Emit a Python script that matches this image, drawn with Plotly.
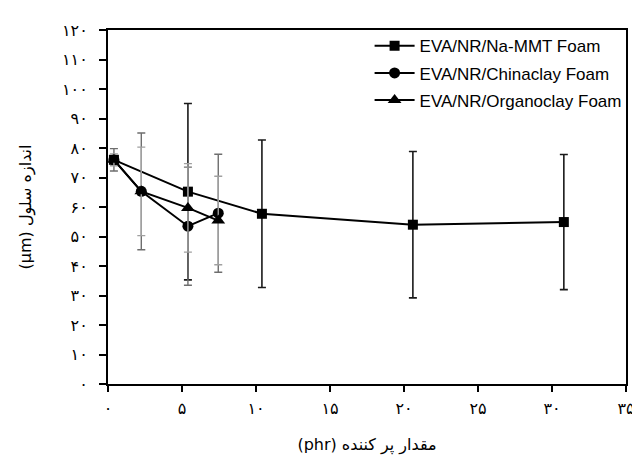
import plotly.graph_objects as go

# Filler content (phr) and mean cell size (um) with standard deviations
x_mmt = [0.4, 5.4, 10.4, 20.6, 30.8]
y_mmt = [76.0, 65.2, 57.7, 54.0, 54.9]
e_mmt = [1.0, 29.9, 25.0, 24.8, 22.9]

x_china = [0.4, 2.25, 5.4, 7.45]
y_china = [76.0, 65.3, 53.5, 57.9]
e_china = [3.8, 19.8, 20.0, 20.0]

x_organo = [0.4, 2.25, 5.4, 7.45]
y_organo = [76.0, 65.3, 59.7, 55.4]
e_organo = [2.0, 15.0, 15.0, 15.0]

names = ["EVA/NR/Na-MMT Foam", "EVA/NR/Chinaclay Foam", "EVA/NR/Organoclay Foam"]

x_ticks = [0, 5, 10, 15, 20, 25, 30, 35]
y_ticks = list(range(0, 121, 10))

FA = str.maketrans("0123456789", "۰۱۲۳۴۵۶۷۸۹")


def fa(v):
    return str(v).translate(FA)


fig = go.Figure()

series = [
    (x_mmt, y_mmt, e_mmt, "square", 10, "#1a1a1a", 1.6),
    (x_china, y_china, e_china, "circle", 11, "#6e6e6e", 1.4),
    (x_organo, y_organo, e_organo, "triangle-up", 12, "#a0a0a0", 1.4),
]
for i, (xs, ys, es, sym, sz, ecol, eth) in enumerate(series):
    fig.add_trace(go.Scatter(
        x=xs, y=ys, name=names[i], mode="lines+markers",
        legendgroup=f"g{i}",
        line=dict(color="black", width=2),
        marker=dict(symbol=sym, size=sz, color="black", line=dict(width=0)),
        error_y=dict(type="data", array=es, visible=True,
                     color=ecol, thickness=eth, width=4),
    ))

fig.update_layout(
    width=632, height=456,
    margin=dict(l=108, r=6, t=30, b=72, autoexpand=False),
    paper_bgcolor="white", plot_bgcolor="white",
    showlegend=True,
    legend=dict(
        x=0.505, y=1.005, xanchor="left", yanchor="top",
        bgcolor="rgba(0,0,0,0)", borderwidth=0,
        font=dict(family="Liberation Sans, Arial, sans-serif", size=17, color="black"),
        tracegroupgap=2, traceorder="grouped", itemwidth=40,
    ),
    font=dict(family="DejaVu Sans, sans-serif", color="black"),
)

fig.update_xaxes(
    range=[0, 35], tickmode="array", tickvals=x_ticks,
    ticktext=[fa(v) for v in x_ticks],
    showline=True, linecolor="black", linewidth=2, mirror=True,
    ticks="outside", ticklen=6, tickwidth=2, tickcolor="black",
    tickfont=dict(family="DejaVu Sans, sans-serif", size=16, color="black"),
    ticklabelstandoff=3, ticklabeloverflow="allow", automargin=False,
    showgrid=False, zeroline=False,
    title=dict(text="(phr) مقدار پر کننده", standoff=22,
               font=dict(family="DejaVu Sans, sans-serif", size=16, color="black")),
)
fig.update_yaxes(
    range=[0, 120], tickmode="array", tickvals=y_ticks,
    ticktext=[fa(v) for v in y_ticks],
    showline=True, linecolor="black", linewidth=2, mirror=True,
    ticks="outside", ticklen=7, tickwidth=2, tickcolor="black",
    tickfont=dict(family="DejaVu Sans, sans-serif", size=16, color="black"),
    ticklabelstandoff=8, ticklabeloverflow="allow", automargin=False,
    showgrid=False, zeroline=False,
    title=dict(text="(µm) اندازه سلول", standoff=26,
               font=dict(family="DejaVu Sans, sans-serif", size=16, color="black")),
)

fig.write_html("out.html")
